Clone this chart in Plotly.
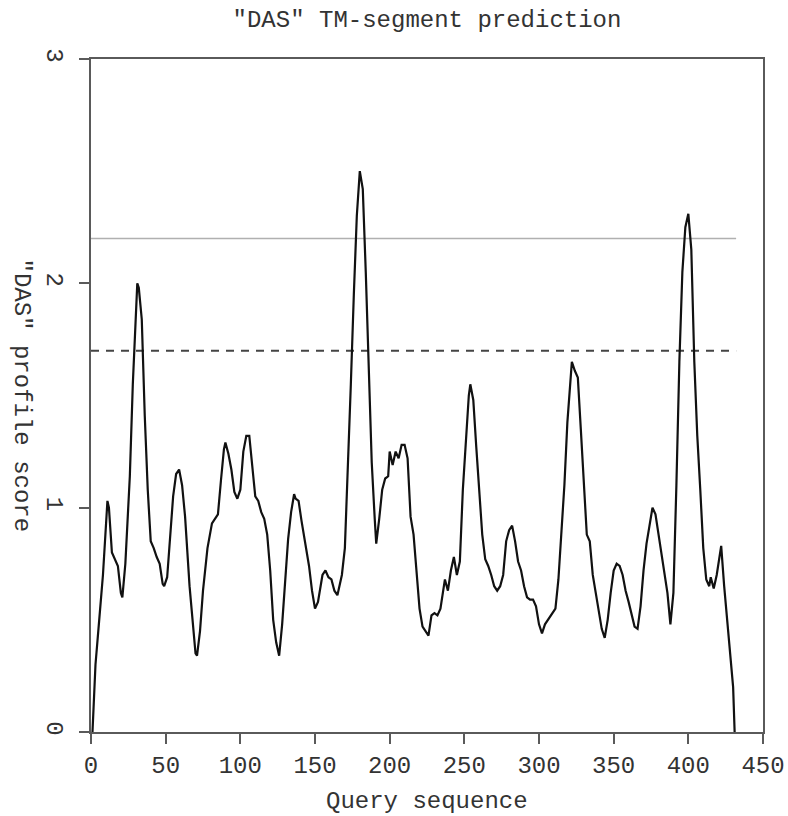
import plotly.graph_objects as go

# Query sequence position (residue) and DAS profile score
residue = [1, 3, 5, 8, 11, 12, 14, 16, 18, 20, 21, 23, 26, 28, 30, 31, 32, 34, 36, 38,
           40, 42, 44, 46, 48, 49, 51, 53, 55, 57, 59, 61, 63, 66, 68, 70, 71, 73, 75, 78,
           81, 83, 85, 87, 89, 90, 92, 94, 96, 98, 100, 102, 104, 106, 108, 110, 112, 114, 116, 118,
           120, 122, 124, 126, 128, 130, 132, 134, 136, 137, 139, 141, 143, 146, 148, 150, 152, 155, 157, 159,
           161, 163, 165, 168, 170, 172, 174, 176, 178, 180, 182, 184, 186, 188, 190, 191, 193, 195, 197, 199,
           200, 202, 204, 206, 208, 210, 212, 214, 216, 218, 220, 222, 224, 226, 228, 230, 232, 234, 237, 239,
           241, 243, 245, 247, 249, 251, 253, 254, 256, 258, 260, 262, 264, 266, 268, 270, 272, 274, 276, 278,
           280, 282, 284, 286, 288, 290, 292, 294, 296, 298, 300, 302, 304, 306, 308, 311, 313, 315, 317, 319,
           321, 322, 324, 326, 328, 330, 332, 334, 336, 338, 340, 342, 344, 346, 348, 350, 352, 354, 356, 358,
           360, 362, 364, 366, 368, 370, 372, 374, 376, 378, 380, 382, 384, 386, 388, 390, 392, 394, 396, 398,
           400, 402, 404, 406, 408, 410, 412, 414, 415, 417, 419, 421, 422, 424, 426, 428, 430, 431]

score = [0.00, 0.30, 0.46, 0.70, 1.03, 1.00, 0.80, 0.77, 0.74, 0.62, 0.60, 0.75, 1.14, 1.55, 1.90, 2.00, 1.98, 1.84, 1.41, 1.08,
         0.85, 0.82, 0.78, 0.75, 0.66, 0.65, 0.69, 0.88, 1.05, 1.15, 1.17, 1.10, 0.96, 0.65, 0.50, 0.35, 0.34, 0.45, 0.63, 0.82,
         0.93, 0.95, 0.97, 1.12, 1.26, 1.29, 1.24, 1.17, 1.07, 1.04, 1.08, 1.25, 1.32, 1.32, 1.20, 1.05, 1.03, 0.98, 0.95, 0.88,
         0.72, 0.50, 0.40, 0.34, 0.48, 0.65, 0.86, 0.98, 1.06, 1.04, 1.03, 0.94, 0.86, 0.74, 0.63, 0.55, 0.58, 0.70, 0.72, 0.69,
         0.68, 0.63, 0.61, 0.70, 0.82, 1.16, 1.55, 1.95, 2.30, 2.50, 2.42, 2.05, 1.60, 1.20, 0.95, 0.84, 0.95, 1.08, 1.13, 1.14,
         1.25, 1.19, 1.25, 1.22, 1.28, 1.28, 1.22, 0.96, 0.88, 0.72, 0.55, 0.47, 0.45, 0.43, 0.52, 0.53, 0.52, 0.55, 0.68, 0.63,
         0.72, 0.78, 0.70, 0.76, 1.08, 1.29, 1.50, 1.55, 1.48, 1.27, 1.05, 0.88, 0.77, 0.74, 0.70, 0.65, 0.63, 0.65, 0.70, 0.85,
         0.90, 0.92, 0.85, 0.76, 0.72, 0.65, 0.60, 0.59, 0.59, 0.56, 0.48, 0.44, 0.48, 0.50, 0.52, 0.55, 0.68, 0.88, 1.10, 1.38,
         1.58, 1.65, 1.61, 1.58, 1.35, 1.10, 0.88, 0.85, 0.70, 0.62, 0.53, 0.46, 0.42, 0.50, 0.62, 0.72, 0.75, 0.74, 0.70, 0.63,
         0.58, 0.52, 0.47, 0.46, 0.56, 0.72, 0.84, 0.92, 1.00, 0.97, 0.88, 0.78, 0.69, 0.62, 0.48, 0.62, 1.10, 1.65, 2.05, 2.25,
         2.31, 2.15, 1.65, 1.32, 1.08, 0.82, 0.68, 0.65, 0.69, 0.64, 0.70, 0.78, 0.83, 0.65, 0.50, 0.36, 0.20, 0.00]

seq_len = 432
strict_cutoff = 2.2
loose_cutoff = 1.7

x_ticks = [0, 50, 100, 150, 200, 250, 300, 350, 400, 450]
y_ticks = [0, 1, 2, 3]

FONT = "Courier New, Liberation Mono, monospace"
TXT = "#333333"
AX = "#5a5a5a"
FS = 24

fig = go.Figure()
fig.add_trace(go.Scatter(x=[0, seq_len], y=[strict_cutoff, strict_cutoff], mode="lines",
                         line=dict(color="#b0b0b0", width=1.5), hoverinfo="skip"))
fig.add_trace(go.Scatter(x=[0, seq_len], y=[loose_cutoff, loose_cutoff], mode="lines",
                         line=dict(color="#444444", width=2, dash="8px,7px"), hoverinfo="skip"))
fig.add_trace(go.Scatter(x=residue, y=score, mode="lines",
                         line=dict(color="#111111", width=2.2)))

fig.update_layout(
    width=788, height=816,
    margin=dict(l=91, r=25, t=59, b=84, autoexpand=False),
    paper_bgcolor="white", plot_bgcolor="white",
    showlegend=False,
    font=dict(family=FONT, size=FS, color=TXT),
    title=dict(text='"DAS" TM-segment prediction', x=0.5, xref="paper", xanchor="center",
               y=0.977, yref="container", yanchor="middle",
               font=dict(family=FONT, size=FS, color=TXT)),
    annotations=[
        dict(text='"DAS" profile score', textangle=90, xref="paper", yref="paper",
             x=-0.1027, y=0.5, xanchor="center", yanchor="middle", showarrow=False,
             font=dict(family=FONT, size=FS, color=TXT)),
        dict(text="Query sequence", xref="paper", yref="paper",
             x=0.5, y=-0.104, xanchor="center", yanchor="middle", showarrow=False,
             font=dict(family=FONT, size=FS, color=TXT)),
    ],
)
fig.update_xaxes(range=[0, 450], tickvals=x_ticks, ticks="outside", ticklen=10, tickwidth=2,
                 tickcolor=AX, showline=True, linecolor=AX, linewidth=2, mirror=True,
                 showgrid=False, zeroline=False, automargin=False)
fig.update_yaxes(range=[0, 3], tickvals=y_ticks, ticks="outside", ticklen=10, tickwidth=2,
                 tickcolor=AX, showline=True, linecolor=AX, linewidth=2, mirror=True,
                 showgrid=False, zeroline=False, tickangle=90, automargin=False,
                 ticklabelstandoff=3)

fig.write_html("out.html",
               config={"displayModeBar": False},
               post_script="document.body.style.margin='0';document.body.style.overflow='hidden';")
